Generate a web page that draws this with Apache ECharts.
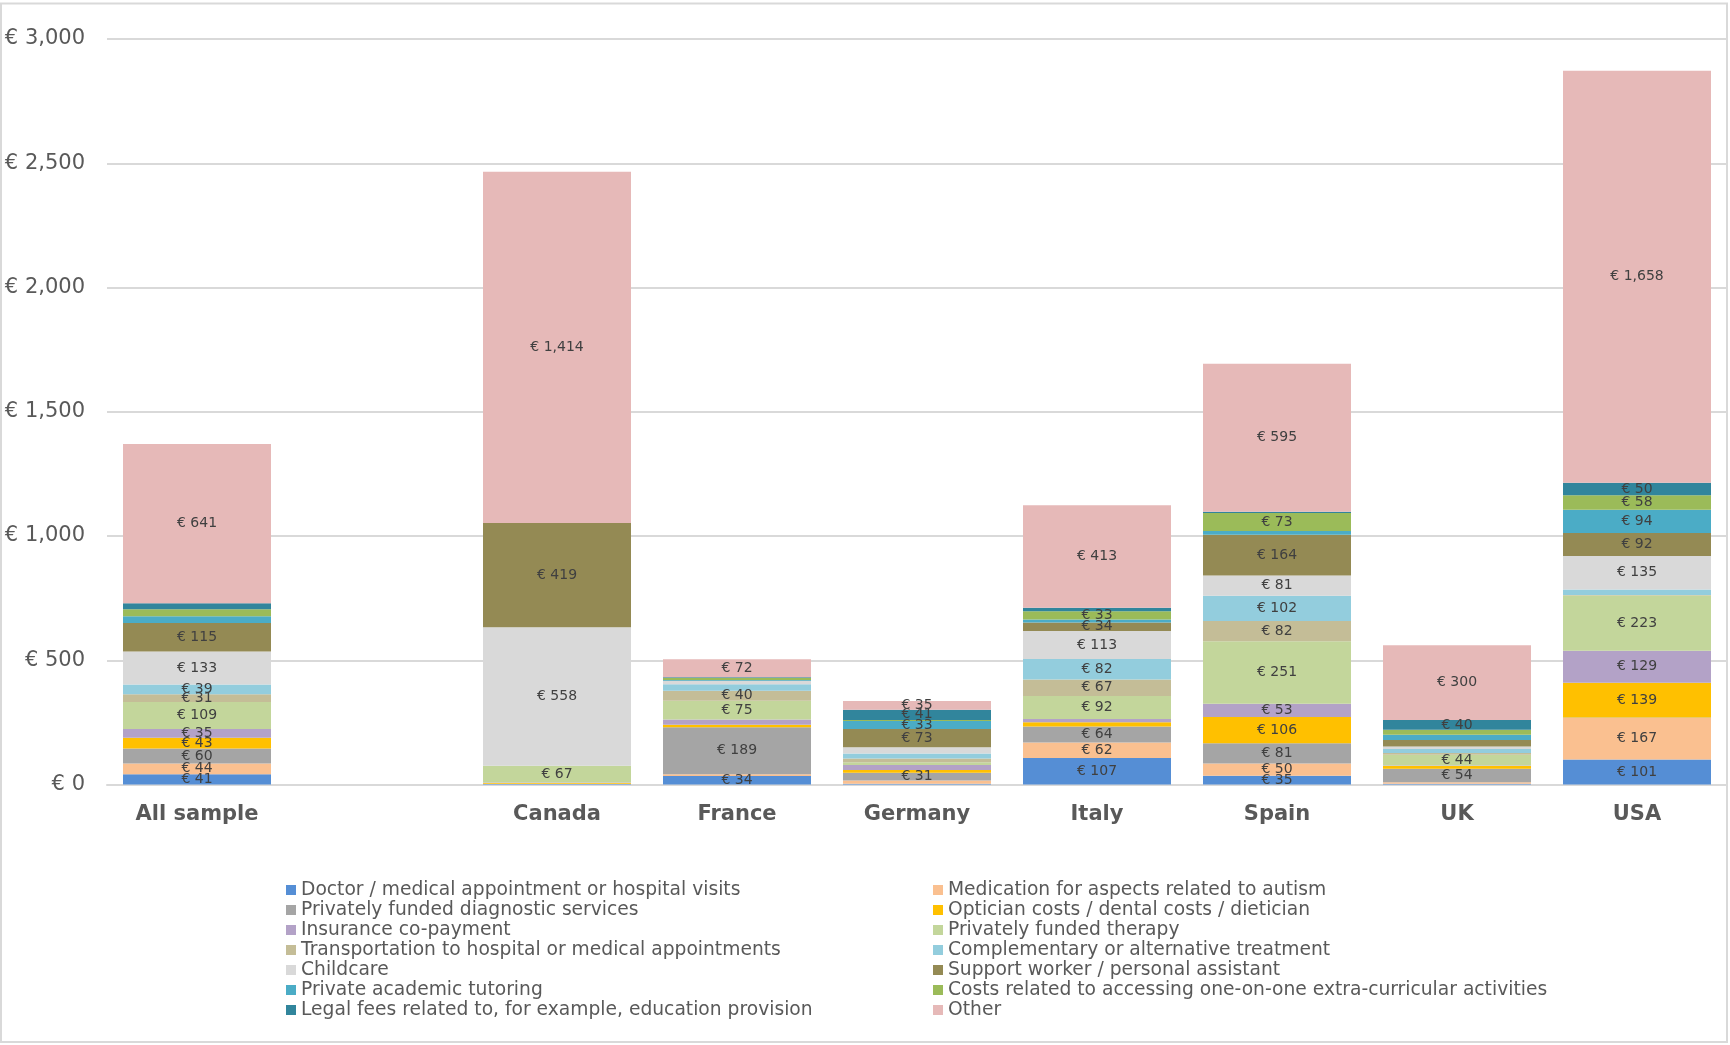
<!DOCTYPE html>
<html>
<head>
<meta charset="utf-8">
<title>Out-of-pocket costs by country</title>
<script src="https://cdn.jsdelivr.net/npm/echarts@6/dist/echarts.min.js"></script>
<style>
  html, body { margin: 0; padding: 0; background: #ffffff; }
  #chart { width: 1730px; height: 1045px; }
</style>
</head>
<body>
<div id="chart"></div>
<script>
// Categories (the blank slot separates the pooled sample from the countries)
const categories = ['All sample', '', 'Canada', 'France', 'Germany', 'Italy', 'Spain', 'UK', 'USA'];

// Y axis ticks
const yTicks = [0, 500, 1000, 1500, 2000, 2500, 3000];

// Cost components, € per year (bottom to top of each stack)
const doctor        = [41,  null, 2,    34,  3,  107, 35,  3,   101];
const medication    = [44,  null, 1,    7,   13, 62,  50,  6,   167];
const diagnostic    = [60,  null, 0,    189, 31, 64,  81,  54,  2];
const optician      = [43,  null, 3,    10,  11, 18,  106, 11,  139];
const insurance     = [35,  null, 2,    22,  20, 13,  53,  2,   129];
const therapy       = [109, null, 67,   75,  12, 92,  251, 44,  223];
const transport     = [31,  null, 0,    40,  15, 67,  82,  7,   2];
const complementary = [39,  null, 0,    26,  20, 82,  102, 16,  22];
const childcare     = [133, null, 558,  13,  25, 113, 81,  10,  135];
const support       = [115, null, 419,  2,   73, 34,  164, 26,  92];
const tutoring      = [27,  null, 0,    3,   33, 12,  15,  21,  94];
const extracurr     = [28,  null, 0,    8,   4,  33,  73,  20,  58];
const legal         = [24,  null, 0,    3,   41, 14,  5,   40,  50];
const other         = [641, null, 1414, 72,  35, 413, 595, 300, 1658];

const seriesDefs = [
  ['Doctor / medical appointment or hospital visits', doctor, '#558ed5'],
  ['Medication for aspects related to autism', medication, '#fac090'],
  ['Privately funded diagnostic services', diagnostic, '#a5a5a5'],
  ['Optician costs / dental costs / dietician', optician, '#ffc000'],
  ['Insurance co-payment', insurance, '#b3a2c7'],
  ['Privately funded therapy', therapy, '#c3d69b'],
  ['Transportation to hospital or medical appointments', transport, '#c4bd97'],
  ['Complementary or alternative treatment', complementary, '#93cddd'],
  ['Childcare', childcare, '#d9d9d9'],
  ['Support worker / personal assistant', support, '#948a54'],
  ['Private academic tutoring', tutoring, '#4bacc6'],
  ['Costs related to accessing one-on-one extra-curricular activities', extracurr, '#9bbb59'],
  ['Legal fees related to, for example, education provision', legal, '#31859c'],
  ['Other', other, '#e6b9b8']
];

const FONT = '"DejaVu Sans", Verdana, sans-serif';
const fmtEuro = v => '€ ' + Number(v).toLocaleString('en-US');

const series = seriesDefs.map(([name, data, color]) => ({
  name: name,
  type: 'bar',
  stack: 'total',
  data: data,
  barWidth: 148,
  itemStyle: { color: color },
  label: {
    show: true,
    position: 'inside',
    fontFamily: FONT,
    fontSize: 14,
    color: '#404040',
    formatter: p => (p.value != null && p.value >= 30) ? fmtEuro(p.value) : ''
  },
  emphasis: { disabled: true }
}));

// Legend columns
const leftNames = [0, 2, 4, 6, 8, 10, 12].map(i => seriesDefs[i][0]);
const rightNames = [1, 3, 5, 7, 9, 11, 13].map(i => seriesDefs[i][0]);

const legendBase = {
  orient: 'vertical',
  top: 880,
  padding: 0,
  itemGap: 0,
  itemWidth: 10,
  itemHeight: 10,
  icon: 'rect',
  textStyle: { fontFamily: FONT, fontSize: 18.7, color: '#595959', lineHeight: 20 }
};

const chart = echarts.init(document.getElementById('chart'), null, { renderer: 'canvas' });

chart.setOption({
  animation: false,
  backgroundColor: '#ffffff',
  textStyle: { fontFamily: FONT },
  graphic: [{
    type: 'rect',
    shape: { x: 1, y: 3.5, width: 1726, height: 1038.5 },
    style: { fill: 'none', stroke: '#d9d9d9', lineWidth: 2 },
    silent: true,
    z: -1
  }],
  grid: { left: 107, right: 3, top: 39, bottom: 260.5, containLabel: false },
  legend: [
    Object.assign({}, legendBase, { left: 286, data: leftNames }),
    Object.assign({}, legendBase, { left: 933, data: rightNames })
  ],
  xAxis: {
    type: 'category',
    data: categories,
    axisLine: { show: true, lineStyle: { color: '#d9d9d9', width: 2 } },
    axisTick: { show: false },
    axisLabel: {
      fontFamily: FONT,
      fontSize: 21,
      fontWeight: 'bold',
      color: '#595959',
      margin: 20,
      interval: 0
    }
  },
  yAxis: {
    type: 'value',
    min: yTicks[0],
    max: yTicks[yTicks.length - 1],
    interval: 500,
    axisLine: { show: false },
    axisTick: { show: false },
    splitLine: { lineStyle: { color: '#d9d9d9', width: 2 } },
    axisLabel: {
      fontFamily: FONT,
      fontSize: 21,
      color: '#595959',
      margin: 22,
      formatter: v => fmtEuro(v)
    }
  },
  series: series
});
</script>
</body>
</html>
